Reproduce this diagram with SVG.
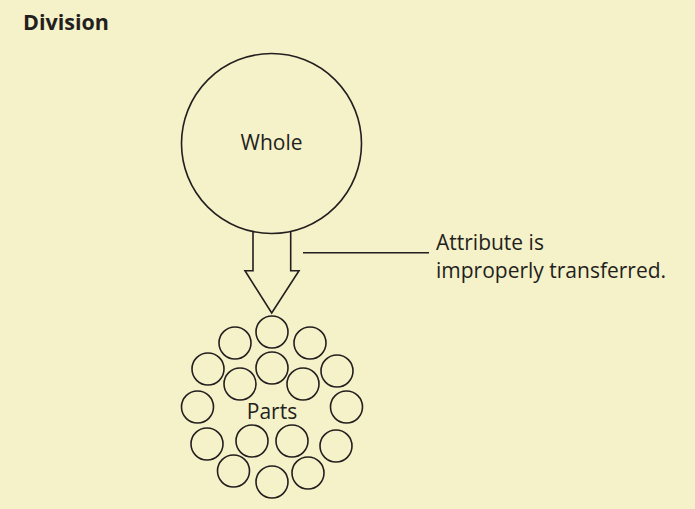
<svg xmlns="http://www.w3.org/2000/svg" width="695" height="509" viewBox="0 0 695 509">
<style>
.s{fill:none;stroke:#231f20;stroke-width:1.6}
.t{font-family:"Open Sans","Liberation Sans",sans-serif;font-size:21px;fill:#231f20}
.b{font-family:"Open Sans","Liberation Sans",sans-serif;font-size:21.5px;font-weight:bold;fill:#231f20}
</style>
<rect width="695" height="509" fill="#f5f1c8"/>
<text class="b" x="23" y="30">Division</text>
<g id="whole">
<circle class="s" cx="271.5" cy="143.5" r="90"/>
<text class="t" x="271.5" y="150" text-anchor="middle">Whole</text>
</g>
<g id="parts">
<g class="s">
<circle cx="272" cy="332" r="16"/>
<circle cx="235" cy="343" r="16"/>
<circle cx="310" cy="343" r="16"/>
<circle cx="208" cy="369" r="16"/>
<circle cx="337" cy="371" r="16"/>
<circle cx="272" cy="368" r="16"/>
<circle cx="240" cy="384" r="16"/>
<circle cx="303" cy="384" r="16"/>
<circle cx="197.5" cy="407" r="16"/>
<circle cx="346.5" cy="407" r="16"/>
<circle cx="207" cy="444" r="16"/>
<circle cx="252" cy="441" r="16"/>
<circle cx="292" cy="441" r="16"/>
<circle cx="336" cy="446" r="16"/>
<circle cx="233.5" cy="471" r="16"/>
<circle cx="308" cy="473" r="16"/>
<circle cx="272" cy="482" r="16"/>
</g>
<text class="t" x="272" y="419" text-anchor="middle">Parts</text>
</g>
<g id="connectors">
<path class="s" d="M253,232 V270.7 H245 L271.7,313 L299,270.7 H290.7 V232"/>
<line class="s" x1="303" y1="252.7" x2="429" y2="252.7"/>
</g>
<g id="label">
<text class="t" x="436" y="250">Attribute is</text>
<text class="t" x="436" y="277.5">improperly transferred.</text>
</g>
</svg>
